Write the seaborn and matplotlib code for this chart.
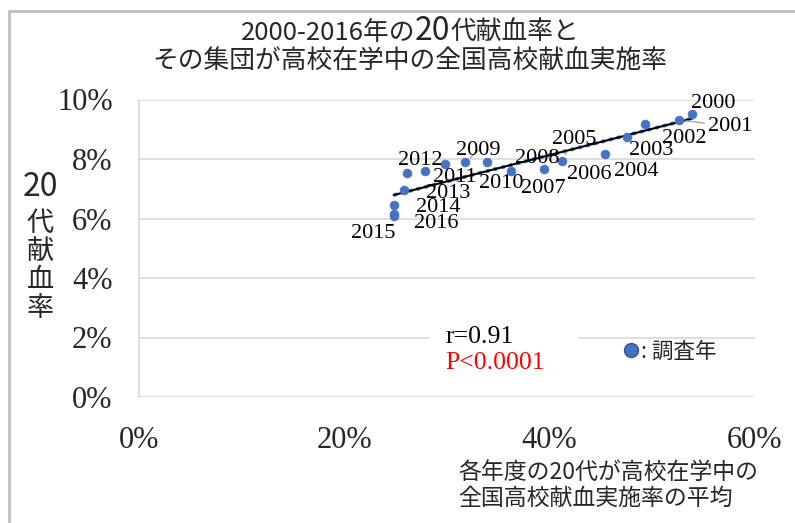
import matplotlib

matplotlib.use("Agg")
import matplotlib.pyplot as plt
import numpy as np
import pandas as pd
import seaborn as sns
from matplotlib.lines import Line2D
from matplotlib.patches import Rectangle

# Data (percent)
years = list(range(2000, 2017))
hs_rate = [53.9, 52.6, 49.3, 47.5, 45.4, 41.2, 39.4, 36.2, 33.9, 31.8,
           29.8, 27.9, 26.1, 25.8, 24.8, 24.8, 24.8]
donation_rate = [9.51, 9.31, 9.17, 8.75, 8.18, 7.94, 7.67, 7.60, 7.89, 7.89,
                 7.83, 7.60, 7.53, 6.97, 6.45, 6.14, 6.08]
x_ticks = [0, 20, 40, 60]
y_ticks = [0, 2, 4, 6, 8, 10]

# label offsets in pixels (dx right, dy down) as placed in the original
label_offsets = {
    2000: (21, -11), 2001: (51, 6), 2002: (39, 14), 2003: (25, 14),
    2004: (31, 18), 2005: (12, -21), 2006: (46, 6), 2007: (33, 18),
    2008: (50, -4), 2009: (13, -12), 2010: (56, 19), 2011: (29, 7),
    2012: (13, -12), 2013: (44, 4), 2014: (45, 2), 2015: (-20, 19),
    2016: (43, 7),
}
leader_years = {2001, 2005, 2009}

df = pd.DataFrame({"year": years, "hs": hs_rate, "donor": donation_rate})

sns.set_theme(style="white")
plt.rcParams["font.family"] = ["Liberation Serif", "Noto Sans CJK JP"]
JP = ["Noto Sans CJK JP", "DejaVu Sans"]
BLUE = "#4472C4"

W, H = 795, 523
fig = plt.figure(figsize=(W / 100, H / 100), dpi=100)
ax = fig.add_axes([139 / W, 1 - 397 / H, 616 / W, 297.5 / H])

# trend line
slope, intercept = np.polyfit(df["hs"], df["donor"], 1)
xs = np.array([df["hs"].min(), df["hs"].max()])
ax.plot(xs, slope * xs + intercept, color=BLUE, lw=2.6, ls=(0, (1, 1.2)), zorder=2)
ax.plot(xs, slope * xs + intercept, color="black", lw=1.5, zorder=3)

sns.scatterplot(data=df, x="hs", y="donor", ax=ax, color=BLUE, s=40,
                edgecolor=BLUE, linewidth=0.5, zorder=4, legend=False)

for yr, xv, yv in zip(years, hs_rate, donation_rate):
    dx, dy = label_offsets[yr]
    arrow = None
    if yr in leader_years:
        arrow = dict(arrowstyle="-", color="#a6a6a6", lw=1, shrinkA=0, shrinkB=5)
    ax.annotate(str(yr), (xv, yv), xytext=(dx, -dy), textcoords="offset pixels",
                ha="center", va="center", fontsize=16, color="black",
                arrowprops=arrow, zorder=5)

ax.set_xlim(0, 60)
ax.set_ylim(0, 10)
ax.set_xticks(x_ticks)
ax.set_yticks(y_ticks)
ax.set_xticklabels([f"{v}%" for v in x_ticks])
ax.set_yticklabels([f"{v}%" for v in y_ticks])
ax.tick_params(axis="x", length=0, pad=21, labelsize=22)
ax.tick_params(axis="y", length=0, pad=19, labelsize=22)
ax.grid(axis="y", color="#d9d9d9", lw=1.2)
ax.set_axisbelow(True)
for side in ["top", "right", "bottom"]:
    ax.spines[side].set_visible(False)
ax.spines["left"].set_color("#d9d9d9")
ax.spines["left"].set_linewidth(1.2)
ax.set_xlabel("")
ax.set_ylabel("")

# white box behind r / P text
ax.add_patch(Rectangle(((429 - 139) / 616, (397 - 378) / 297.5), 149 / 616, 56 / 297.5,
                       transform=ax.transAxes, facecolor="white", edgecolor="none", zorder=1))
ax.text((445 - 139) / 616, (397 - 337) / 297.5, "r=0.91", transform=ax.transAxes,
        fontsize=18.5, va="center", ha="left", color="black", zorder=5)
ax.text((445 - 139) / 616, (397 - 363) / 297.5, "P<0.0001", transform=ax.transAxes,
        fontsize=18.5, va="center", ha="left", color="red", zorder=5)

handle = Line2D([], [], marker="o", ls="none", markersize=10, markerfacecolor=BLUE,
                markeredgecolor="#2f528f", markeredgewidth=1)
ax.legend([handle], [": 調査年"], loc="center left",
          bbox_to_anchor=((622 - 139) / 616, (397 - 352) / 297.5), frameon=False,
          handlelength=0.8, handletextpad=0.1, borderpad=0, borderaxespad=0,
          prop={"family": JP, "size": 15.5})

# title, first line built from pieces so "20" can be larger
renderer = fig.canvas.get_renderer()
pieces = [("2000-2016年の", 18.5), ("20", 23), ("代献血率と", 18.5)]
texts = [fig.text(0, 1 - 40 / H, s, fontsize=fs, family=JP, va="baseline", ha="left")
         for s, fs in pieces]
widths = [t.get_window_extent(renderer).width for t in texts]
x = 410 - sum(widths) / 2
for t, w in zip(texts, widths):
    t.set_x(x / W)
    x += w
fig.text(410 / W, 1 - 62 / H, "その集団が高校在学中の全国高校献血実施率", fontsize=18.5,
         family=JP, ha="center", va="center")

# y label, stacked vertically
fig.text(40 / W, 1 - 187 / H, "20", fontsize=23, family=JP, ha="center", va="center")
for i, ch in enumerate("代献血率"):
    fig.text(40 / W, 1 - (223 + 28.5 * i) / H, ch, fontsize=19.5, family=JP,
             ha="center", va="center")

# x label
fig.text(458 / W, 1 - 472 / H, "各年度の20代が高校在学中の", fontsize=16.5, family=JP,
         ha="left", va="center")
fig.text(458 / W, 1 - 498 / H, "全国高校献血実施率の平均", fontsize=16.5, family=JP,
         ha="left", va="center")

# outer chart frame
fig.patches.append(Rectangle((9 / W, -0.1), 1.2, 1 - 11 / H + 0.1, transform=fig.transFigure,
                             facecolor="none", edgecolor="#bfbfbf", lw=2))

fig.savefig("out.png", dpi=100)
